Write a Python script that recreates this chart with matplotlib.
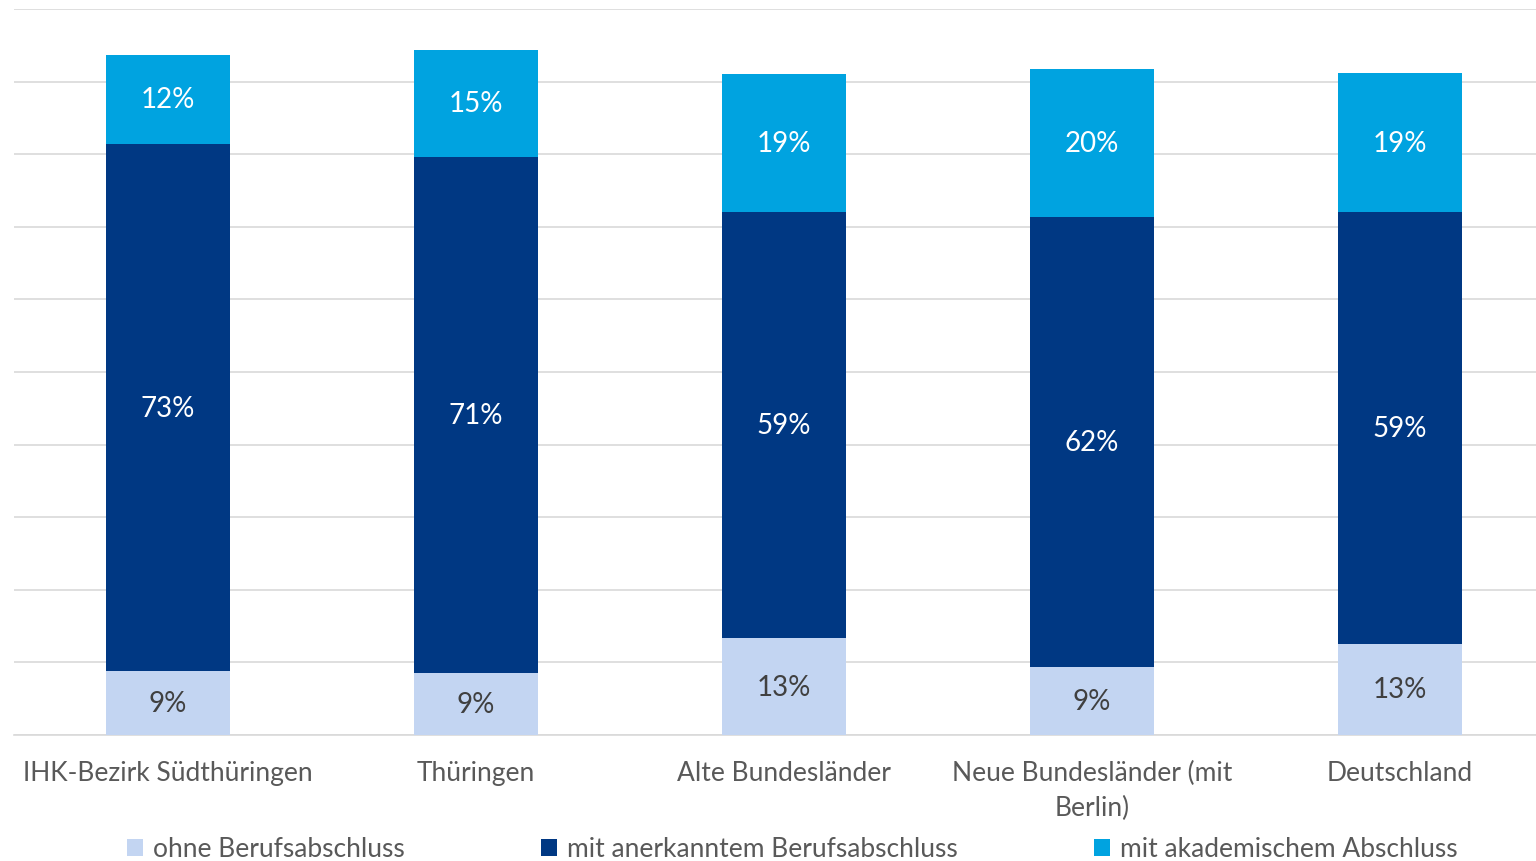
import matplotlib.pyplot as plt
import numpy as np

# regions on the x axis
categories = ['IHK-Bezirk Südthüringen', 'Thüringen', 'Alte Bundesländer',
              'Neue Bundesländer (mit\nBerlin)', 'Deutschland']

# shares in percent
ohne = [8.8, 8.6, 13.3, 9.4, 12.6]
anerkannt = [72.6, 71.0, 58.8, 62.0, 59.4]
akademisch = [12.3, 14.8, 19.0, 20.3, 19.2]

series_names = ['ohne Berufsabschluss', 'mit anerkanntem Berufsabschluss',
                'mit akademischem Abschluss']
colors = ['#c3d5f2', '#003883', '#00a3e0']
label_colors = ['#404040', 'white', 'white']

plt.rcParams['font.family'] = ['Lato', 'DejaVu Sans']

fig = plt.figure(figsize=(15.36, 8.62), dpi=100)
ax = fig.add_axes([14 / 1536, 126 / 862, 1540 / 1536, 726 / 862])

x = np.arange(len(categories))
bottom = np.zeros(len(categories))
for vals, name, col, lcol in zip([ohne, anerkannt, akademisch], series_names,
                                 colors, label_colors):
    vals = np.array(vals)
    bars = ax.bar(x, vals, width=0.4, bottom=bottom, color=col, label=name,
                  zorder=3)
    for xi, b, v in zip(x, bottom, vals):
        ax.text(xi, b + v / 2, '%d%%' % round(v), ha='center', va='center',
                color=lcol, fontsize=20, zorder=4)
    bottom += vals

ax.set_xlim(-0.5, 4.5)
ax.set_ylim(0, 100)
ax.set_yticks(np.arange(0, 101, 10))
ax.yaxis.grid(True, color='#d9d9d9', linewidth=1.2, zorder=0)
ax.tick_params(axis='y', left=False, labelleft=False)
ax.tick_params(axis='x', length=0, pad=18, labelsize=19, labelcolor='#595959')
ax.set_xticks(x)
ax.set_xticklabels(categories, linespacing=1.5)
for s in ['top', 'right', 'left']:
    ax.spines[s].set_visible(False)
ax.spines['bottom'].set_color('#d9d9d9')
ax.spines['bottom'].set_linewidth(1.2)

fig.legend(loc='center', bbox_to_anchor=(0.516, 12 / 862), ncol=3,
           frameon=False, fontsize=19, labelcolor='#595959',
           handlelength=0.6, handleheight=0.6, handletextpad=0.4,
           columnspacing=5.15)

fig.savefig('out.png', dpi=100)
